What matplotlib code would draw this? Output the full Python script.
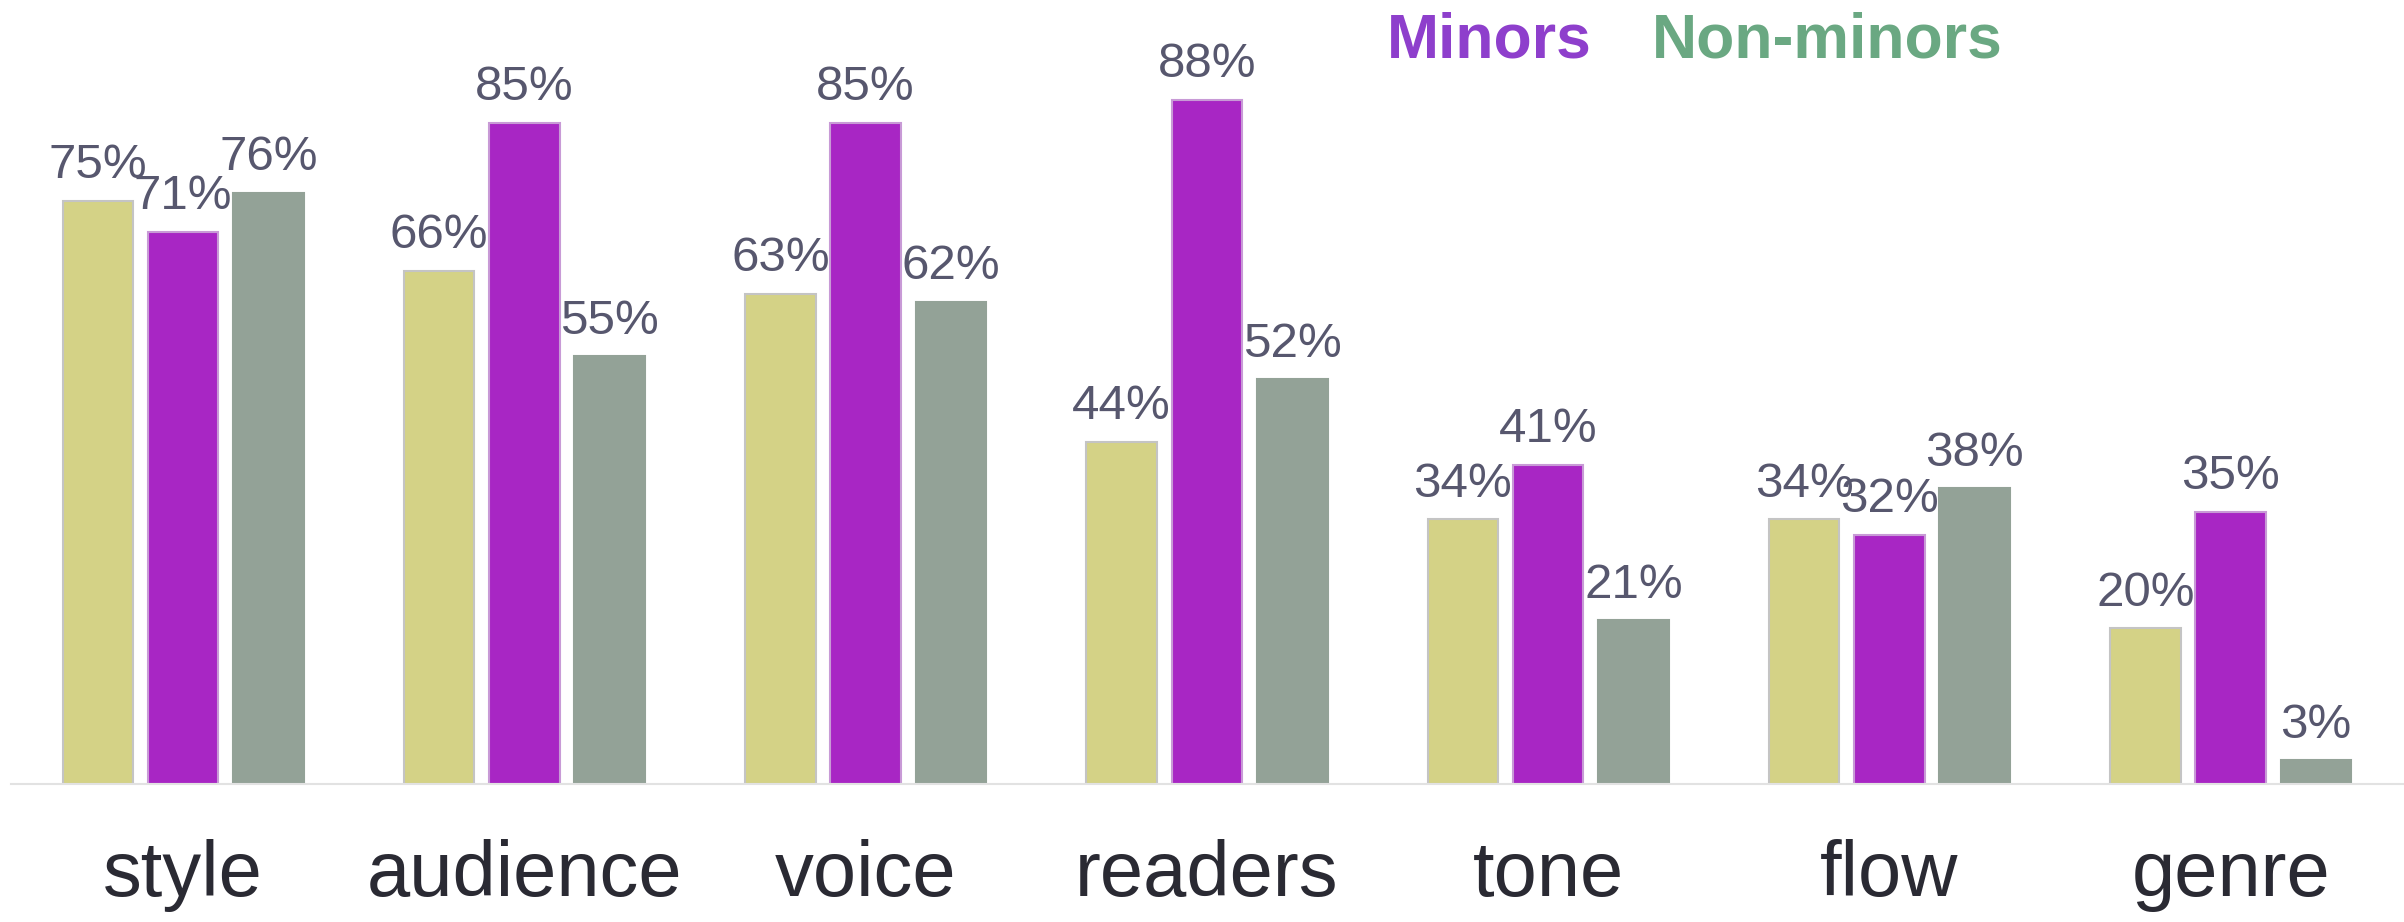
import matplotlib
matplotlib.use("Agg")
import matplotlib.pyplot as plt
import numpy as np

plt.rcParams['font.family'] = ['Liberation Sans', 'DejaVu Sans']

# data
categories = ['style', 'audience', 'voice', 'readers', 'tone', 'flow', 'genre']
overall = [75, 66, 63, 44, 34, 34, 20]
minors = [71, 85, 85, 88, 41, 32, 35]
non_minors = [76, 55, 62, 52, 21, 38, 3]

series = [overall, minors, non_minors]
colors = ['#d4d286', '#a826c4', '#93a297']
edges = ['#c4c4c4', '#c89ad6', '#93a297']

fig = plt.figure(figsize=(24.04, 9.22), dpi=100)
ax = fig.add_axes([0.0045, 0.150, 0.9955, 0.850])

x = np.arange(len(categories))
width = 0.207
step = 0.25
for i, (vals, c, ec) in enumerate(zip(series, colors, edges)):
	pos = x + (i - 1) * step
	bars = ax.bar(pos, vals, width, color=c, edgecolor=ec, linewidth=1.5, zorder=2)
	for b, v in zip(bars, vals):
		ax.annotate('%d%%' % v, (b.get_x() + b.get_width() / 2, v),
			xytext=(0, 9), textcoords='offset points',
			ha='center', va='bottom', fontsize=35.5, color='#57576e')

ax.set_xlim(-0.505, 6.508)
ax.set_ylim(0, 100.8)
ax.set_xticks(x)
ax.set_xticklabels(categories, fontsize=56, color='#2a2a33')
ax.tick_params(axis='x', length=0, pad=40)
ax.set_yticks([])
for s in ['top', 'right', 'left']:
	ax.spines[s].set_visible(False)
ax.spines['bottom'].set_color('#e2e2e2')
ax.spines['bottom'].set_linewidth(1.5)

# legend as coloured words
fig.text(0.577, 0.938, 'Minors', fontsize=45, fontweight='bold', color='#8e3fcc', va='baseline')
fig.text(0.687, 0.938, 'Non-minors', fontsize=45, fontweight='bold', color='#6aa882', va='baseline')

fig.savefig('out.png', dpi=100)
